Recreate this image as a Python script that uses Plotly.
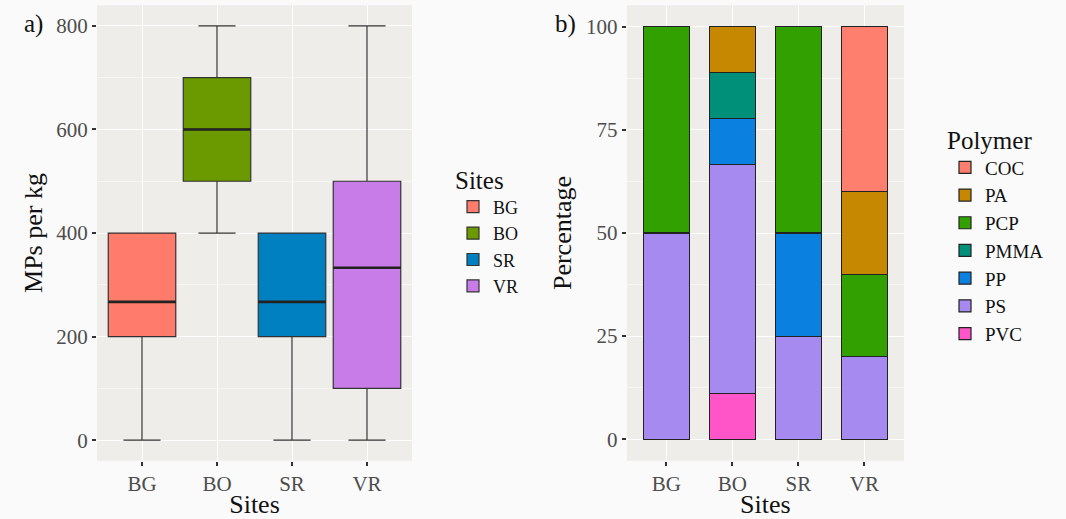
import plotly.graph_objects as go

sites = ["BG", "BO", "SR", "VR"]
box_min = [0, 400, 0, 0]
box_q1 = [200, 500, 200, 100]
box_median = [267, 600, 267, 333]
box_q3 = [400, 700, 400, 500]
box_max = [400, 800, 400, 800]
site_colors = ["#FF7B6B", "#6B9A00", "#0080C0", "#C77CE8"]

polymers = ["COC", "PA", "PCP", "PMMA", "PP", "PS", "PVC"]
polymer_colors = ["#FF7F6E", "#C68800", "#32A000", "#00907A", "#0A80E0", "#A68AF0", "#FF55C8"]
# percentage per polymer for sites BG, BO, SR, VR
pct = {
    "COC": [0, 0, 0, 40],
    "PA": [0, 11.1, 0, 20],
    "PCP": [50, 0, 50, 20],
    "PMMA": [0, 11.1, 0, 0],
    "PP": [0, 11.1, 25, 0],
    "PS": [50, 55.6, 25, 20],
    "PVC": [0, 11.1, 0, 0],
}

FONT = "Liberation Serif"
W, H = 1066, 519
BOX_WIDTH = 0.9

fig = go.Figure()

for i, s in enumerate(sites):
    fig.add_trace(go.Box(
        x=[s], q1=[box_q1[i]], median=[box_median[i]], q3=[box_q3[i]],
        lowerfence=[box_min[i]], upperfence=[box_max[i]], width=BOX_WIDTH,
        name=s, fillcolor=site_colors[i], line=dict(color="#333333", width=1.2),
        whiskerwidth=0.55, boxpoints=False, xaxis="x", yaxis="y",
        legend="legend", hoverinfo="skip",
    ))

# thicker median lines (ggplot style), placed from the data via the axis
shapes = []
for i, m in enumerate(box_median):
    shapes.append(dict(type="line", xref="x", yref="y", x0=i - BOX_WIDTH / 2, x1=i + BOX_WIDTH / 2,
                       y0=m, y1=m, line=dict(color="#222222", width=2.6)))

for p, c in reversed(list(zip(polymers, polymer_colors))):
    fig.add_trace(go.Bar(
        x=sites, y=pct[p], name=p, marker=dict(color=c, line=dict(color="#222222", width=1.2)),
        xaxis="x2", yaxis="y2", legend="legend2",
    ))

axis_common = dict(
    showline=False, ticks="outside", ticklen=4, tickwidth=1.5, tickcolor="#333333",
    tickfont=dict(family=FONT, size=21, color="#4D4D4D"),
    gridcolor="#FFFFFF", gridwidth=1.4, zeroline=False,
)
title_font = dict(family=FONT, size=26, color="#111111")

fig.update_layout(
    width=W, height=H,
    margin=dict(l=0, r=0, t=0, b=0),
    paper_bgcolor="#FAFAFA", plot_bgcolor="#EEEDEA",
    font=dict(family=FONT, color="#111111"),
    boxmode="overlay", boxgap=1 - BOX_WIDTH, boxgroupgap=0,
    barmode="stack", bargap=0.3,
    xaxis=dict(domain=[0.091, 0.3865], type="category", categoryorder="array", categoryarray=sites,
               range=[-0.6, 3.6], title=dict(text="Sites", font=title_font, standoff=2),
               **axis_common),
    yaxis=dict(domain=[0.112, 0.990], range=[-40, 840], tickvals=[0, 200, 400, 600, 800],
               minor=dict(dtick=100, tick0=0, showgrid=True, gridcolor="#F7F6F4", gridwidth=0.8, ticks=""),
               title=dict(text="MPs per kg", font=title_font, standoff=6),
               **axis_common),
    xaxis2=dict(domain=[0.588, 0.848], type="category", categoryorder="array", categoryarray=sites,
                range=[-0.6, 3.6], anchor="y2",
                title=dict(text="Sites", font=title_font, standoff=2),
                **axis_common),
    yaxis2=dict(domain=[0.112, 0.990], range=[-5.25, 105.25], anchor="x2",
                tickvals=[0, 25, 50, 75, 100],
                minor=dict(dtick=12.5, tick0=0, showgrid=True, gridcolor="#F7F6F4", gridwidth=0.8, ticks=""),
                title=dict(text="Percentage", font=title_font, standoff=6),
                **axis_common),
    legend=dict(x=453 / W, y=1 - 156 / H, xanchor="left", yanchor="top", bgcolor="rgba(0,0,0,0)",
                title=dict(text="Sites", font=dict(family=FONT, size=25)),
                font=dict(family=FONT, size=18), tracegroupgap=0),
    legend2=dict(x=945 / W, y=1 - 116 / H, xanchor="left", yanchor="top", bgcolor="rgba(0,0,0,0)",
                 traceorder="reversed",
                 title=dict(text="Polymer", font=dict(family=FONT, size=25)),
                 font=dict(family=FONT, size=19), tracegroupgap=0),
    annotations=[
        dict(text="a)", x=33 / W, y=1 - 24 / H, xref="paper", yref="paper", showarrow=False,
             xanchor="center", yanchor="middle",
             font=dict(family=FONT, size=25, color="#111111")),
        dict(text="b)", x=565 / W, y=1 - 24 / H, xref="paper", yref="paper", showarrow=False,
             xanchor="center", yanchor="middle",
             font=dict(family=FONT, size=25, color="#111111")),
    ],
    shapes=shapes,
)

fig.write_html("out.html", config={"displayModeBar": False},
               post_script="document.body.style.margin='0';document.body.style.overflow='hidden';")
